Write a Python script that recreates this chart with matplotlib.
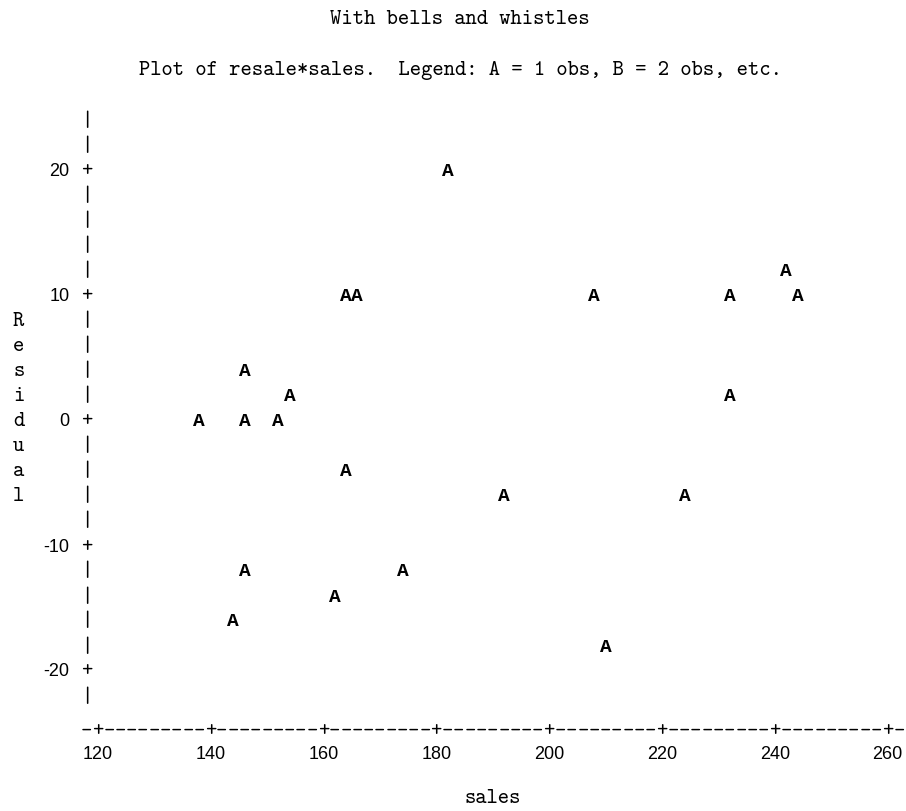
import matplotlib
matplotlib.use("Agg")
import matplotlib.pyplot as plt

# points (each "A" = 1 obs)
sales = [182, 164, 166, 242, 208, 232, 244, 146, 154, 232, 138, 146, 152,
         164, 192, 224, 146, 174, 162, 144, 210]
residual = [20, 10, 10, 12, 10, 10, 10, 4, 2, 2, 0, 0, 0,
            -4, -6, -6, -12, -12, -14, -16, -18]

x_ticks = [120, 140, 160, 180, 200, 220, 240, 260]
y_ticks = [20, 10, 0, -10, -20]
y_label = "Residual"
x_label = "sales"
title = "With bells and whistles"
subtitle = "Plot of resale*sales.  Legend: A = 1 obs, B = 2 obs, etc."

TT = "cmtt10"
FS = 15.5

fig = plt.figure(figsize=(9.06, 8.11), dpi=100)
ax = fig.add_axes([0, 0, 1, 1])
ax.set_xlim(102.69, 263.24)
ax.set_ylim(-31.12, 33.76)
ax.set_axis_off()

# vertical axis made of '|' and '+'
for r in range(24, -23, -2):
    ch = "+" if r in y_ticks else "|"
    ax.text(118, r, ch, family=TT, fontsize=FS, ha="center", va="center")
for t in y_ticks:
    ax.text(115, t, str(t), family="Liberation Sans", fontsize=13,
            ha="right", va="center")

# horizontal axis made of '-' and '+'
for c in range(118, 263, 2):
    ch = "+" if c in x_ticks else "-"
    ax.text(c, -24.8, ch, family=TT, fontsize=FS, ha="center", va="center")
for t in x_ticks:
    ax.text(t, -26.6, str(t), family="Liberation Sans", fontsize=13,
            ha="center", va="center")

# vertical label, one letter per row
for i, ch in enumerate(y_label):
    ax.text(106, 8 - 2 * i, ch, family=TT, fontsize=FS, ha="center", va="center")

ax.text(190, -30.15, x_label, family=TT, fontsize=FS, ha="center", va="center")

for s, r in zip(sales, residual):
    ax.text(s, r, "A", family="Liberation Mono", fontweight="bold",
            fontsize=14, ha="center", va="center")

fig.text(0.508, 1 - 20 / 811, title, family=TT, fontsize=FS, ha="center", va="center")
fig.text(0.508, 1 - 71 / 811, subtitle, family=TT, fontsize=FS, ha="center", va="center")

fig.savefig("out.png", dpi=100, facecolor="white")
